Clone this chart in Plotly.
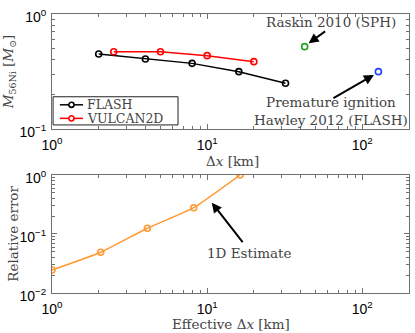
import plotly.graph_objects as go

flash_dx = [2, 4, 8, 16, 32]
flash_ni = [0.449, 0.406, 0.372, 0.315, 0.25]
vulcan_dx = [2.5, 5, 10, 20]
vulcan_ni = [0.47, 0.47, 0.434, 0.385]
raskin_dx = [42.5]
raskin_ni = [0.52]
hawley_dx = [127]
hawley_ni = [0.315]
eff_dx = [1, 2.06, 4.12, 8.2, 16.3]
rel_err = [0.0245, 0.049, 0.125, 0.279, 1.0]

x_ticks = [1, 10, 100]
x_ticktext = ["10<sup>0</sup>", "10<sup>1</sup>", "10<sup>2</sup>"]
y1_ticks = [0.1, 1]
y1_ticktext = ["10<sup>−1</sup>", "10<sup>0</sup>"]
y2_ticks = [0.01, 0.1, 1]
y2_ticktext = ["10<sup>−2</sup>", "10<sup>−1</sup>", "10<sup>0</sup>"]

legend_names = ["FLASH", "VULCAN2D"]

SERIF = "DejaVu Serif"
SANS = "Liberation Sans"
FRAME = "#707070"
TXT = "#444444"
C_FLASH = "black"
C_VULCAN = "#ff0000"
C_RASKIN = "#1fa01f"
C_HAWLEY = "#1a3fff"
C_ERR = "#ff9933"

def minors(lo, hi):
    out = []
    d = lo
    while d < hi:
        out += [d * k for k in range(2, 10)]
        d *= 10
    return out

fig = go.Figure()
mk = dict(symbol="circle-open", size=6, line=dict(width=1.6))
fig.add_trace(go.Scatter(x=flash_dx, y=flash_ni, mode="lines+markers", name=legend_names[0],
                         line=dict(color=C_FLASH, width=1.5), marker=dict(color=C_FLASH, **mk),
                         xaxis="x", yaxis="y"))
fig.add_trace(go.Scatter(x=vulcan_dx, y=vulcan_ni, mode="lines+markers", name=legend_names[1],
                         line=dict(color=C_VULCAN, width=1.5), marker=dict(color=C_VULCAN, **mk),
                         xaxis="x", yaxis="y"))
fig.add_trace(go.Scatter(x=raskin_dx, y=raskin_ni, mode="markers", name="Raskin 2010",
                         marker=dict(color=C_RASKIN, **mk), xaxis="x", yaxis="y"))
fig.add_trace(go.Scatter(x=hawley_dx, y=hawley_ni, mode="markers", name="Hawley 2012",
                         marker=dict(color=C_HAWLEY, **mk), xaxis="x", yaxis="y"))
fig.add_trace(go.Scatter(x=eff_dx, y=rel_err, mode="lines+markers", name="1D Estimate",
                         line=dict(color=C_ERR, width=1.5, shape="spline", smoothing=0.5),
                         marker=dict(color=C_ERR, **mk), xaxis="x2", yaxis="y2"))

def common(tv, tt, lo, hi):
    return dict(type="log", tickmode="array", tickvals=tv, ticktext=tt,
                showline=True, linecolor=FRAME, linewidth=1, mirror="ticks",
                ticks="inside", ticklen=5, tickcolor=FRAME, showgrid=False, zeroline=False,
                minor=dict(tickmode="array", tickvals=minors(lo, hi), ticks="inside", ticklen=3,
                           tickcolor=FRAME, showgrid=False),
                tickfont=dict(family=SANS, size=14, color="black"))

def xax(anchor):
    d = common(x_ticks, x_ticktext, 1, 1000)
    d.update(range=[0, 2.301], anchor=anchor, ticklabelstandoff=3)
    return d

def yax(tv, tt, lo, rng, dom, anchor):
    d = common(tv, tt, lo, 1)
    d.update(range=rng, domain=dom, anchor=anchor, ticklabelshift=3, ticklabelstandoff=2)
    return d

ann = []
tf = dict(family=SERIF, size=13.5, color=TXT)
ctr = dict(xanchor="center", yanchor="middle", showarrow=False)
ann.append(dict(text="Raskin 2010 (SPH)", x=1.80, y=-0.07, xref="x", yref="y", font=tf, **ctr))
ann.append(dict(text="Premature ignition<br>Hawley 2012 (FLASH)", x=1.80, y=-0.848, xref="x", yref="y",
                font=tf, **ctr))
ann.append(dict(text="1D Estimate", x=1.27, y=-1.317, xref="x2", yref="y2", font=tf, **ctr))
arr = dict(text="", showarrow=True, arrowhead=2, arrowsize=1, arrowwidth=2, arrowcolor="black")
ann.append(dict(x=1.654, y=-0.255, xref="x", yref="y", ax=18, ay=-13, **arr))
ann.append(dict(x=2.075, y=-0.53, xref="x", yref="y", ax=-42, ay=24, **arr))
ann.append(dict(x=1.03, y=-0.469, xref="x2", yref="y2", ax=32, ay=41, **arr))
# axis titles
ann.append(dict(text="Δ<i>x</i> [km]", x=0.505, y=-0.275, xref="x domain", yref="y domain",
                font=tf, **ctr))
ann.append(dict(text="Effective Δ<i>x</i> [km]", x=0.5, y=-0.265, xref="x2 domain", yref="y2 domain",
                font=tf, **ctr))
ann.append(dict(text="<i>M</i><sub>56Ni</sub> [<i>M</i><sub>⊙</sub>]", x=-0.118, y=0.5,
                xref="x domain", yref="y domain", textangle=-90, font=tf, **ctr))
ann.append(dict(text="Relative error", x=-0.11, y=0.5, xref="x2 domain", yref="y2 domain",
                textangle=-90, font=tf, **ctr))

# compact legend box (decoration in the top panel)
shapes = [dict(type="rect", xref="x domain", yref="y domain", x0=0.003, x1=0.353, y0=0.035, y1=0.28,
               line=dict(color="#222222", width=1), fillcolor="white", layer="above")]
for name, col, yy in [(legend_names[0], C_FLASH, 0.21), (legend_names[1], C_VULCAN, 0.092)]:
    shapes.append(dict(type="line", xref="x domain", yref="y domain", x0=0.022, x1=0.087, y0=yy, y1=yy,
                       line=dict(color=col, width=1.5), layer="above"))
    shapes.append(dict(type="circle", xref="x domain", yref="y domain", xsizemode="pixel",
                       ysizemode="pixel", xanchor=0.0545, yanchor=yy, x0=-2.6, x1=2.6, y0=-2.6, y1=2.6,
                       line=dict(color=col, width=1.6), fillcolor="white", layer="above"))
    ann.append(dict(text=name, x=0.093, y=yy, xref="x domain", yref="y domain", xanchor="left",
                    yanchor="middle", showarrow=False, font=dict(family=SERIF, size=12.5, color=TXT)))

fig.update_layout(
    width=415, height=333, margin=dict(l=52, r=6, t=14, b=40),
    paper_bgcolor="white", plot_bgcolor="white",
    xaxis=xax("y"), yaxis=yax(y1_ticks, y1_ticktext, 0.1, [-1, 0], [0.588, 1.0], "x"),
    xaxis2=xax("y2"), yaxis2=yax(y2_ticks, y2_ticktext, 0.01, [-2, 0], [0.0, 0.423], "x2"),
    annotations=ann, shapes=shapes, showlegend=False,
)
fig.write_html("out.html", config={"displayModeBar": False},
               post_script="document.body.style.margin='0';document.body.style.overflow='hidden';")
